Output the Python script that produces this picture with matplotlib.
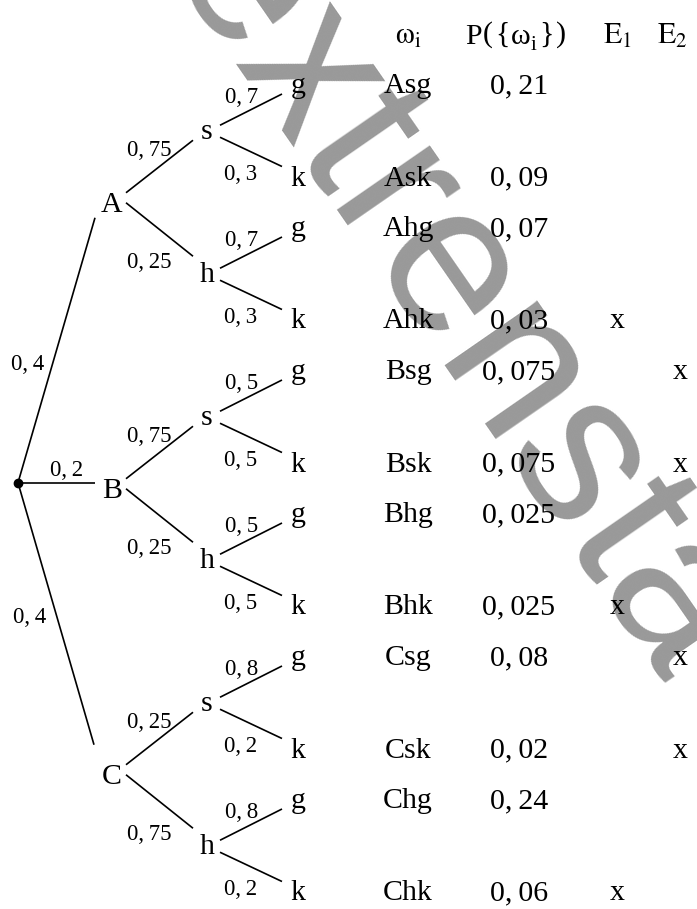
"""
Baumdiagramm mit Ergebnistabelle (Pfadregeln)
"""

import matplotlib.pyplot as plt

plt.rcParams['font.family'] = ['Liberation Serif', 'DejaVu Serif']
plt.rcParams['mathtext.fontset'] = 'stix'

# Daten aus dem Bild
stufe1 = ['A', 'B', 'C']
p_stufe1 = [0.4, 0.2, 0.4]
stufe2 = ['s', 'h']
p_stufe2 = [[0.75, 0.25], [0.75, 0.25], [0.25, 0.75]]
stufe3 = ['g', 'k']
p_stufe3 = [[0.7, 0.3], [0.7, 0.3], [0.5, 0.5], [0.5, 0.5], [0.8, 0.2], [0.8, 0.2]]

ergebnisse = ['Asg', 'Ask', 'Ahg', 'Ahk', 'Bsg', 'Bsk', 'Bhg', 'Bhk',
              'Csg', 'Csk', 'Chg', 'Chk']
p_ergebnis = [0.21, 0.09, 0.07, 0.03, 0.075, 0.075, 0.025, 0.025,
              0.08, 0.02, 0.24, 0.06]
in_e1 = [0, 0, 0, 1, 0, 0, 0, 1, 0, 0, 0, 1]
in_e2 = [0, 0, 0, 0, 1, 1, 0, 0, 1, 1, 0, 0]
kopf_omega = r'$\mathrm{\omega_i}$'
kopf_p = ['P', '(', '{', '\u03c9', 'i', '}', ')']
kopf_e = [r'$\mathrm{E_1}$', r'$\mathrm{E_2}$']
wasserzeichen = 'extrensta'


def fmt(v):
    # Dezimalkomma wie im LaTeX-Mathemodus
    return str(v).replace('.', ',\u2009')


# Layout (Pixel)
W, H = 697, 909
x0, x1, x2, x3 = 18, 112, 207, 298
x_tab = [408, 519, 617, 680]
x_kopf_e = [617, 672]
x_kopf_p = [465, 483, 495, 511, 531, 539, 556]
y_kopf = 44
FS, FS_P = 21.5, 16.5
LW = 1.2

fig = plt.figure(figsize=(W / 100, H / 100), dpi=100)
ax = fig.add_axes([0, 0, 1, 1])
ax.set_xlim(0, W)
ax.set_ylim(H, 0)
ax.axis('off')

# Wasserzeichen
ax.text(163, -28, wasserzeichen, fontsize=153, family='Liberation Sans',
        color='#999999', rotation=-55.3, rotation_mode='anchor',
        ha='left', va='baseline', zorder=0)

# Blattpositionen (Grundlinien)
basis = []
y = 93
for i in range(len(ergebnisse)):
    basis.append(y)
    y += 92.5 if i % 2 == 0 else 50.5
a3 = [b - 7 for b in basis]
a2 = [(a3[2 * i] + a3[2 * i + 1]) / 2 for i in range(6)]
a1 = [(a2[2 * i] + a2[2 * i + 1]) / 2 for i in range(3)]
y0 = a1[1] - 7


def linie(xa, ya, xb, yb):
    ax.plot([xa, xb], [ya, yb], color='black', lw=LW,
            solid_capstyle='butt', zorder=2)


def label(txt, x, y, fs=FS, ha='center'):
    ax.text(x, y, txt, fontsize=fs, ha=ha, va='baseline', zorder=3)


# Wurzel
ax.plot(x0, y0, 'o', color='black', ms=6, zorder=3)
ende1 = [(x1 - 17, a1[0] + 14), (x1 - 17, y0), (x1 - 18, a1[2] - 31)]
off1 = [(-37, 19), (2, -18), (-35, -14)]
for i, name in enumerate(stufe1):
    linie(x0, y0, *ende1[i])
    mx, my = (x0 + x1) / 2, (y0 + a1[i]) / 2
    label(fmt(p_stufe1[i]), mx + off1[i][0], my + off1[i][1] + 8, FS_P)
    label(name, x1, a1[i] + 8)

    # Stufe 2
    for j, n2 in enumerate(stufe2):
        k = 2 * i + j
        if j == 0:
            linie(x1 + 14, a1[i] - 11, x2 - 14, a2[k] + 8)
            dy = -20
        else:
            linie(x1 + 14, a1[i] - 1, x2 - 14, a2[k] - 19)
            dy = 21
        mx, my = (x1 + x2) / 2, (a1[i] + a2[k]) / 2
        label(fmt(p_stufe2[i][j]), mx - 10, my + dy + 8, FS_P)
        label(n2, x2, a2[k] + 7)

        # Stufe 3
        for m, n3 in enumerate(stufe3):
            b = 2 * k + m
            if m == 0:
                linie(x2 + 13, a2[k] - 7, x3 - 16, a3[b] + 8)
                ox, dy = -11, -14
            else:
                linie(x2 + 13, a2[k] + 5, x3 - 16, a3[b] - 12)
                ox, dy = -12, 17
            mx, my = (x2 + x3) / 2, (a2[k] + a3[b]) / 2
            label(fmt(p_stufe3[k][m]), mx + ox, my + dy + 8, FS_P)
            label(n3, x3, basis[b])

# Tabellenkopf
label(kopf_omega, x_tab[0], y_kopf)
for c, t in enumerate(kopf_p):
    if t == 'i':
        label(t, x_kopf_p[c], y_kopf + 6, 15, ha='left')
    elif t in '(){}':
        label(t, x_kopf_p[c], y_kopf - 2, ha='left')
    else:
        label(t, x_kopf_p[c], y_kopf, ha='left')
for c, t in enumerate(kopf_e):
    label(t, x_kopf_e[c], y_kopf)

# Tabelle
for r, name in enumerate(ergebnisse):
    label(name, x_tab[0], basis[r])
    label(fmt(p_ergebnis[r]), x_tab[1], basis[r])
    if in_e1[r]:
        label('x', x_tab[2], basis[r])
    if in_e2[r]:
        label('x', x_tab[3], basis[r])

fig.savefig('out.png', dpi=100)
plt.close(fig)
